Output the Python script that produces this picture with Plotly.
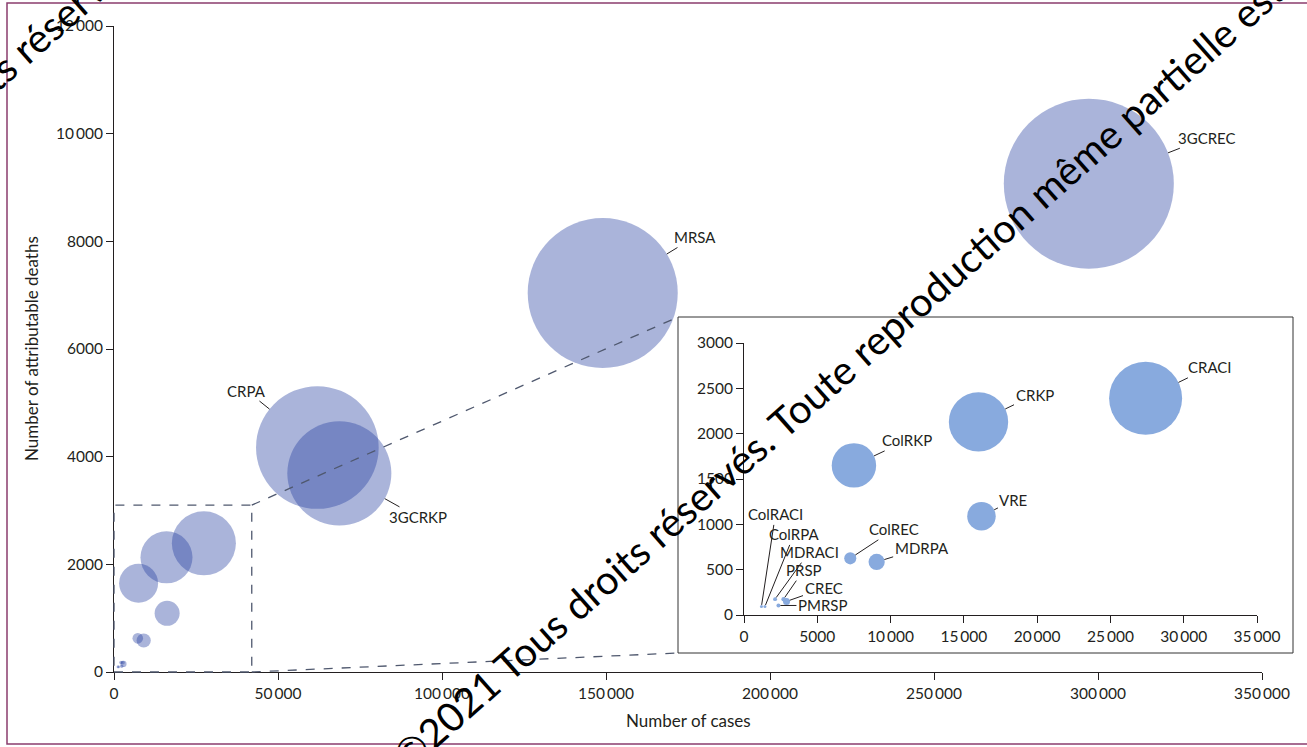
import math
import plotly.graph_objects as go

# ---- data -------------------------------------------------------------
pathogens = ["3GCREC", "MRSA", "CRPA", "3GCRKP", "CRACI", "CRKP", "ColRKP", "VRE",
             "MDRPA", "ColREC", "CREC", "PRSP", "MDRACI", "PMRSP", "ColRPA", "ColRACI"]
cases = [297200, 149000, 62000, 68700, 27400, 16000, 7500, 16200,
         9050, 7250, 2900, 2700, 2120, 2350, 1430, 1190]
deaths = [9070, 7040, 4170, 3690, 2390, 2130, 1650, 1090,
          585, 625, 150, 175, 175, 105, 95, 95]
# bubble magnitude (burden), arbitrary units proportional to bubble area
burden = [253000, 197000, 131600, 94700, 35900, 23700, 13300, 5470,
          1770, 985, 330, 130, 107, 107, 61, 61]

main_xticks = [0, 50000, 100000, 150000, 200000, 250000, 300000, 350000]
main_yticks = [0, 2000, 4000, 6000, 8000, 10000, 12000]
inset_xticks = [0, 5000, 10000, 15000, 20000, 25000, 30000, 35000]
inset_yticks = [0, 500, 1000, 1500, 2000, 2500, 3000]

main_range_x, main_range_y = 350000, 12000
inset_range_x, inset_range_y = 35000, 3000
zoom_box = (42000, 3100)   # region of the main chart enlarged in the inset

# ---- layout constants --------------------------------------------------
W, H = 1307, 747
ML, MR, MT, MB = 114, 45, 26, 75
PW, PH = W - ML - MR, H - MT - MB
FONT = "Lato, 'Open Sans', sans-serif"
INK = "#231f20"
MAIN_COLOR = "rgb(37,63,160)"
MAIN_OPACITY = 0.39
INSET_COLOR = "rgb(136,170,222)"
SIZEREF_MAIN = 17.5
SIZEREF_INSET = SIZEREF_MAIN / 1.14 ** 2


def px(xp):
    return (xp - ML) / PW


def py(yp):
    return (H - MB - yp) / PH


def fmt(v):
    s = f"{v:,}"
    return s.replace(",", "\u2009") if v >= 10000 else s.replace(",", "")


def radius(v, sizeref):
    # plotly 'area' bubbles: radius = sqrt(v / 2 / sizeref)
    return math.sqrt(v / 2 / sizeref)


# inset placement (paper coordinates)
inset_dom_x = [px(744), px(1257)]
inset_dom_y = [py(615), py(343)]
inset_frame = dict(x0=px(678), x1=px(1293), y0=py(653), y1=py(317))

fig = go.Figure()

# main bubbles
fig.add_trace(go.Scatter(
    x=cases, y=deaths, mode="markers", xaxis="x", yaxis="y",
    marker=dict(size=burden, sizemode="area", sizeref=SIZEREF_MAIN,
                color=MAIN_COLOR, opacity=MAIN_OPACITY, line=dict(width=0)),
    cliponaxis=False, hoverinfo="text", text=pathogens, showlegend=False))

# inset bubbles: everything inside the enlarged region
sel = [i for i in range(len(pathogens))
       if cases[i] < inset_range_x and deaths[i] < inset_range_y]
fig.add_trace(go.Scatter(
    x=[cases[i] for i in sel], y=[deaths[i] for i in sel], mode="markers",
    xaxis="x2", yaxis="y2",
    marker=dict(size=[burden[i] for i in sel], sizemode="area", sizeref=SIZEREF_INSET,
                color=INSET_COLOR, opacity=1, line=dict(width=0)),
    cliponaxis=False, hoverinfo="text", text=[pathogens[i] for i in sel],
    showlegend=False))

# label offsets (pixels from bubble centre to label centre)
main_labels = {"3GCREC": (118, -46), "MRSA": (92, -56), "CRPA": (-71, -57), "3GCRKP": (79, 44)}
inset_labels = {"CRACI": (64, -31), "CRKP": (56, -27), "ColRKP": (53, -25), "VRE": (32, -16),
                "ColREC": (44, -29), "MDRPA": (45, -14), "ColRACI": (14, -92),
                "ColRPA": (29, -72), "MDRACI": (34, -47), "PRSP": (20, -29),
                "CREC": (37, -13), "PMRSP": (44, 0)}

annotations = []


def label(name, off, xref, yref, sizeref):
    i = pathogens.index(name)
    annotations.append(dict(
        x=cases[i], y=deaths[i], xref=xref, yref=yref, text=name,
        showarrow=True, arrowhead=0, arrowwidth=1, arrowcolor=INK,
        ax=off[0], ay=off[1], standoff=radius(burden[i], sizeref), startstandoff=0,
        font=dict(family=FONT, size=15, color=INK)))


for n, o in main_labels.items():
    label(n, o, "x", "y", SIZEREF_MAIN)
for n, o in inset_labels.items():
    label(n, o, "x2", "y2", SIZEREF_INSET)

# axis titles
annotations.append(dict(x=0.5, y=py(720), xref="paper", yref="paper", text="Number of cases",
                        xanchor="center", yanchor="middle", showarrow=False,
                        font=dict(family=FONT, size=17, color=INK)))
annotations.append(dict(x=px(31), y=py(349), xref="paper", yref="paper",
                        text="Number of attributable deaths", textangle=-90,
                        xanchor="center", yanchor="middle", showarrow=False,
                        font=dict(family=FONT, size=17, color=INK)))

# copyright watermark running diagonally across the figure
wm = "©2021 Tous droits réservés. Toute reproduction même partielle est interdite"
for cx, cy in [(897, 321), (264, -163)]:
    annotations.append(dict(x=px(cx), y=py(cy), xref="paper", yref="paper", text=wm,
                            textangle=-41.5, showarrow=False, xanchor="center", yanchor="middle",
                            font=dict(family=FONT, size=40, color="black")))

zx, zy = zoom_box[0] / main_range_x, zoom_box[1] / main_range_y
dash = dict(color="#4f586e", width=1.3, dash="dash")
shapes = [
    # outer frame
    dict(type="rect", xref="paper", yref="paper", x0=px(7), x1=px(1312), y0=py(744), y1=py(3),
         line=dict(color="#8a3d6e", width=1.5), layer="below"),
    # inset frame
    dict(type="rect", xref="paper", yref="paper", **inset_frame,
         line=dict(color="#333333", width=1), fillcolor="white", layer="below"),
    # enlarged region and its connectors
    dict(type="rect", xref="paper", yref="paper", x0=0, y0=0, x1=zx, y1=zy, line=dash, layer="above"),
    dict(type="line", xref="paper", yref="paper", x0=zx, y0=zy,
         x1=inset_frame["x0"], y1=inset_frame["y1"], line=dash, layer="above"),
    dict(type="line", xref="paper", yref="paper", x0=zx, y0=0,
         x1=inset_frame["x0"], y1=inset_frame["y0"], line=dash, layer="above"),
]

axis_common = dict(showgrid=False, zeroline=False, showline=True, linecolor=INK, linewidth=1,
                   ticks="outside", tickcolor=INK, ticklen=7, tickwidth=1,
                   tickfont=dict(family=FONT, size=15.5, color=INK))

fig.update_layout(
    width=W, height=H, margin=dict(l=ML, r=MR, t=MT, b=MB),
    paper_bgcolor="white", plot_bgcolor="white",
    xaxis=dict(range=[0, main_range_x], tickvals=main_xticks,
               ticktext=[fmt(v) for v in main_xticks], domain=[0, 1], **axis_common),
    yaxis=dict(range=[0, main_range_y], tickvals=main_yticks,
               ticktext=[fmt(v) for v in main_yticks], domain=[0, 1], **axis_common),
    xaxis2=dict(range=[0, inset_range_x], tickvals=inset_xticks, anchor="y2",
                ticktext=[fmt(v) for v in inset_xticks], domain=inset_dom_x, **axis_common),
    yaxis2=dict(range=[0, inset_range_y], tickvals=inset_yticks, anchor="x2",
                ticktext=[fmt(v) for v in inset_yticks], domain=inset_dom_y, **axis_common),
    shapes=shapes, annotations=annotations, showlegend=False,
)

fig.write_html("out.html")
